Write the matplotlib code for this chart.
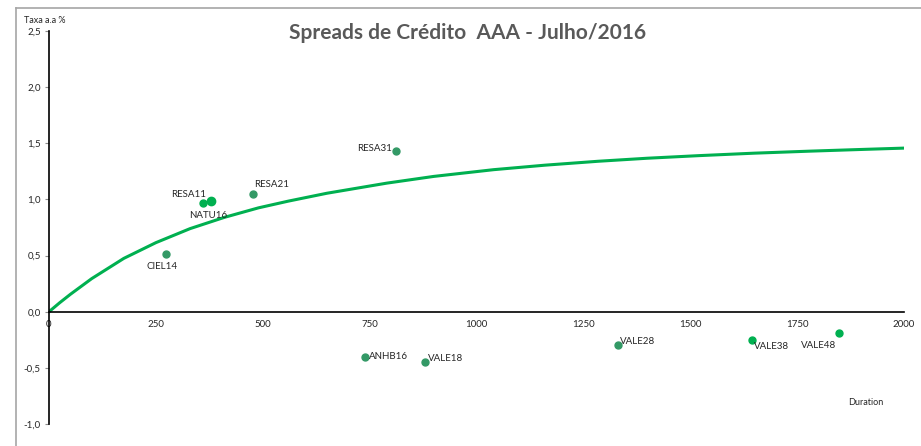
import matplotlib.pyplot as plt
from matplotlib.lines import Line2D
from matplotlib.ticker import FuncFormatter

# --- bonds (duration in days, spread % a.a.) ---
bonds = ["RESA31", "RESA11", "NATU16", "RESA21", "CIEL14",
         "ANHB16", "VALE18", "VALE28", "VALE38", "VALE48"]
duration = [812, 360, 379, 477, 274, 739, 880, 1332, 1645, 1849]
spread = [1.43, 0.97, 0.99, 1.05, 0.51, -0.40, -0.45, -0.30, -0.25, -0.19]

# --- fitted curve ---
curve_x = [0, 25, 50, 100, 175, 250, 330, 410, 490, 560, 650, 790, 900,
           1040, 1160, 1285, 1400, 1520, 1650, 1780, 1900, 2000]
curve_y = [0, 0.08, 0.155, 0.295, 0.475, 0.615, 0.74, 0.84, 0.925, 0.985,
           1.055, 1.145, 1.205, 1.265, 1.305, 1.34, 1.367, 1.39, 1.412,
           1.43, 1.445, 1.457]

dark = "#339966"
bright = "#00B050"
colors = [dark, bright, bright, dark, dark, dark, dark, dark, bright, bright]
sizes = [5, 5, 6, 5, 5, 5, 5, 5, 5, 5]

# label offsets in points (dx, dy, ha, va)
label_pos = {
    "RESA31": (-3, 2, "right", "center"),
    "RESA11": (2, 6, "right", "center"),
    "NATU16": (-2, -11, "center", "center"),
    "RESA21": (1, 7, "left", "center"),
    "CIEL14": (-3, -9, "center", "center"),
    "ANHB16": (3, 0, "left", "center"),
    "VALE18": (2, 3, "left", "center"),
    "VALE28": (1, 3, "left", "center"),
    "VALE38": (1, -5, "left", "center"),
    "VALE48": (-2, -9, "right", "center"),
}

plt.rcParams["font.family"] = ["Lato", "DejaVu Sans"]

fig = plt.figure(figsize=(9.21, 4.46), dpi=100)
ax = fig.add_axes([0.0532, 0.0493, 0.9283, 0.8812])

ax.plot(curve_x, curve_y, color=bright, lw=2.2, solid_capstyle="round",
        solid_joinstyle="round", zorder=2)

for name, x, y, c, s in zip(bonds, duration, spread, colors, sizes):
    ax.plot(x, y, "o", color=c, ms=s, mec=c, zorder=3)
    dx, dy, ha, va = label_pos[name]
    ax.annotate(name, (x, y), xytext=(dx, dy), textcoords="offset points",
                ha=ha, va=va, fontsize=7, color="#262626")

ax.set_xlim(0, 2000)
ax.set_ylim(-1.0, 2.5)
ax.set_xticks([0, 250, 500, 750, 1000, 1250, 1500, 1750, 2000])
ax.set_yticks([-1.0, -0.5, 0.0, 0.5, 1.0, 1.5, 2.0, 2.5])
ax.yaxis.set_major_formatter(FuncFormatter(lambda v, p: f"{v:.1f}".replace(".", ",")))

ax.spines["top"].set_visible(False)
ax.spines["right"].set_visible(False)
ax.spines["bottom"].set_position(("data", 0))
ax.spines["left"].set_linewidth(1.2)
ax.spines["bottom"].set_linewidth(1.2)
ax.tick_params(axis="x", length=0, pad=6, labelsize=7, labelcolor="#262626")
ax.tick_params(axis="y", length=3, color="#8c8c8c", width=0.8, pad=3,
               labelsize=7, labelcolor="#262626")

fig.text(0.508, 0.925, "Spreads de Crédito  AAA - Julho/2016", ha="center",
         va="center", fontsize=15, fontweight="bold", color="#595959")
fig.text(0.026, 0.955, "Taxa a.a %", ha="left", va="center", fontsize=6.5,
         color="#262626")
fig.text(0.921, 0.097, "Duration", ha="left", va="center", fontsize=6.5,
         color="#262626")

# chart-area border (top and left edges visible)
fig.add_artist(Line2D([0.0174, 1.0], [0.982, 0.982], color="#a6a6a6", lw=1.2))
fig.add_artist(Line2D([0.0174, 0.0174], [0.0, 0.982], color="#a6a6a6", lw=1.2))

fig.savefig("out.png", dpi=100)
